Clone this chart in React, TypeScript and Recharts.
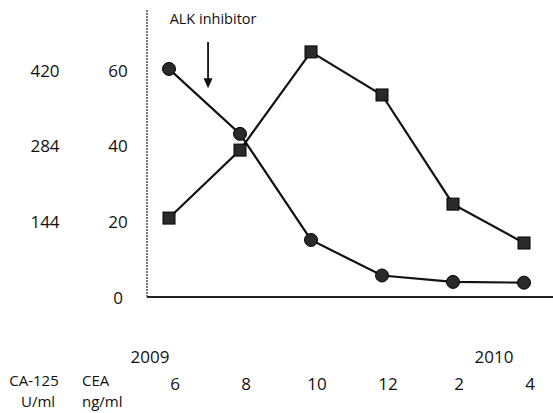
import React from "react";
import { LineChart, Line, XAxis, YAxis, ReferenceLine } from "recharts";

const monthLabels = ["6", "8", "10", "12", "2", "4"];
const yearLabels = ["2009", "", "", "", "2010", ""];
const ceaCircle = [60.4, 43.2, 15.1, 5.7, 4.0, 3.8];
const ceaSquare = [20.9, 38.9, 64.9, 53.5, 24.6, 14.3];
const ceaTicks = [0, 20, 40, 60];
const ca125TickLabels = ["", "144", "284", "420"];
const arrowSegment = [
  { x: 0.55, y: 67.5 },
  { x: 0.55, y: 55.3 },
];
const annotationText = "ALK inhibitor";

const data = monthLabels.map((m, i) => ({
  idx: i,
  month: m,
  circle: ceaCircle[i],
  square: ceaSquare[i],
}));

const FONT = "'Open Sans', 'Liberation Sans', sans-serif";
const TXT = "#111";

const YTick = (props: any) => {
  const { x, y, payload, index } = props;
  const i = ceaTicks.indexOf(payload.value);
  return (
    <g>
      <text x={x} y={y} textAnchor="middle" dominantBaseline="central" fontSize={17} fontFamily={FONT} fill={TXT}>
        {payload.value}
      </text>
      <text x={x - 73} y={y} textAnchor="middle" dominantBaseline="central" fontSize={17} fontFamily={FONT} fill={TXT}>
        {ca125TickLabels[i >= 0 ? i : index]}
      </text>
    </g>
  );
};

const XTick = (props: any) => {
  const { x, y, payload } = props;
  const i = payload.value as number;
  const yearDx = i === 0 ? -19 : 41;
  return (
    <g>
      <text x={x + 6} y={y + 86} textAnchor="middle" dominantBaseline="central" fontSize={17} fontFamily={FONT} fill={TXT}>
        {monthLabels[i]}
      </text>
      {yearLabels[i] ? (
        <text x={x + yearDx} y={y + 59} textAnchor="middle" dominantBaseline="central" fontSize={17} fontFamily={FONT} fill={TXT}>
          {yearLabels[i]}
        </text>
      ) : null}
      {i === 0 ? (
        <g>
          <text x={x - 135} y={y + 83} textAnchor="middle" dominantBaseline="central" fontSize={15} fontFamily={FONT} fill={TXT}>
            CA-125
          </text>
          <text x={x - 148} y={y + 104} textAnchor="start" dominantBaseline="central" fontSize={15} fontFamily={FONT} fill={TXT}>
            U/ml
          </text>
          <text x={x - 87} y={y + 83} textAnchor="start" dominantBaseline="central" fontSize={15} fontFamily={FONT} fill={TXT}>
            CEA
          </text>
          <text x={x - 87} y={y + 104} textAnchor="start" dominantBaseline="central" fontSize={15} fontFamily={FONT} fill={TXT}>
            ng/ml
          </text>
        </g>
      ) : null}
    </g>
  );
};

const CircleDot = (props: any) => {
  const { cx, cy, index } = props;
  if (cx == null || cy == null) return <g key={`c${index}`} />;
  return <circle key={`c${index}`} cx={cx} cy={cy} r={6.5} fill="#2a2a2a" stroke="#000" strokeWidth={1} />;
};

const SquareDot = (props: any) => {
  const { cx, cy, index } = props;
  if (cx == null || cy == null) return <g key={`s${index}`} />;
  return <rect key={`s${index}`} x={cx - 6} y={cy - 6} width={12} height={12} fill="#2a2a2a" stroke="#000" strokeWidth={1} />;
};

const ArrowShape = (props: any) => {
  const { x1, y1, x2, y2 } = props;
  return (
    <g>
      <line x1={x1} y1={y1} x2={x2} y2={y2 - 8} stroke="#111" strokeWidth={1.8} />
      <path d={`M${x2 - 4.5},${y2 - 10} L${x2 + 4.5},${y2 - 10} L${x2},${y2} Z`} fill="#111" />
      <text x={x1 + 5} y={y1 - 24} textAnchor="middle" dominantBaseline="central" fontSize={14.5} fontFamily={FONT} fill={TXT}>
        {annotationText}
      </text>
    </g>
  );
};

export default function App() {
  return (
    <div style={{ position: "absolute", left: 0, top: 0, background: "#fff" }}>
      <LineChart width={553} height={413} data={data} margin={{ top: 10, right: 0, left: 0, bottom: 0 }}>
        <XAxis
          dataKey="idx"
          type="number"
          domain={[0, 5]}
          ticks={[0, 1, 2, 3, 4, 5]}
          padding={{ left: 22, right: 29 }}
          height={116}
          tickLine={false}
          tickSize={0}
          tickMargin={0}
          axisLine={{ stroke: "#222", strokeWidth: 2 }}
          tick={<XTick />}
          interval={0}
        />
        <YAxis
          domain={[0, 76]}
          ticks={ceaTicks}
          width={147}
          tickLine={false}
          tickSize={0}
          tickMargin={29}
          axisLine={{ stroke: "#333", strokeWidth: 1.3, strokeDasharray: "2 1" }}
          tick={<YTick />}
          interval={0}
        />
        <ReferenceLine segment={arrowSegment} shape={<ArrowShape />} />
        <Line
          dataKey="circle"
          stroke="#111"
          strokeWidth={2.2}
          dot={<CircleDot />}
          activeDot={false}
          isAnimationActive={false}
        />
        <Line
          dataKey="square"
          stroke="#111"
          strokeWidth={2.2}
          dot={<SquareDot />}
          activeDot={false}
          isAnimationActive={false}
        />
      </LineChart>
    </div>
  );
}
